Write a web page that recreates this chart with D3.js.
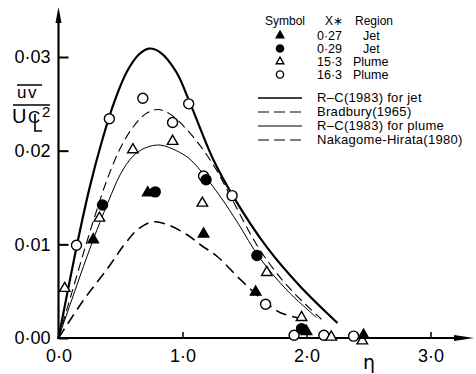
<!DOCTYPE html>
<html>
<head>
<meta charset="utf-8">
<script src="https://cdn.jsdelivr.net/npm/d3@7"></script>
<style>
  html, body { margin: 0; padding: 0; background: #fff; }
  svg { display: block; font-family: "Liberation Sans", Arial, sans-serif; }
</style>
</head>
<body>
<svg id="chart" width="476" height="374"></svg>
<script>
// Measured points: [eta, uv/Uc^2]
const jet027 = [[0.28,0.0105],[0.72,0.0155],[1.17,0.0111],[1.59,0.0049],[2.00,0.0007],[2.46,0.0003]];
const jet029 = [[0.355,0.0142],[0.78,0.0156],[1.19,0.0169],[1.60,0.0088],[1.96,0.0010]];
const plume153 = [[0.05,0.0053],[0.33,0.0128],[0.60,0.0201],[0.92,0.0210],[1.16,0.0144],[1.68,0.0070],[1.96,0.0022],[2.20,0.0001],[2.45,-0.0003]];
const plume163 = [[0.145,0.0099],[0.41,0.0234],[0.68,0.0256],[0.92,0.0230],[1.05,0.0250],[1.17,0.0173],[1.40,0.0152],[1.67,0.0036],[1.90,0.0003],[2.14,0.0003],[2.38,0.0002]];

// Model curves
const rcJet = [[0,0],[0.15,0.0100],[0.25,0.0160],[0.35,0.0210],[0.45,0.0252],[0.55,0.0284],[0.65,0.0303],[0.73,0.0309],[0.82,0.0305],[0.95,0.0284],[1.06,0.0251],[1.25,0.0190],[1.41,0.0151],[1.68,0.0097],[1.95,0.0055],[2.25,0.0016]];
const bradbury = [[0,0],[0.1,0.0045],[0.2,0.0090],[0.3,0.0133],[0.4,0.0172],[0.5,0.0203],[0.6,0.0225],[0.7,0.0239],[0.8,0.0244],[0.9,0.0239],[1.01,0.0226],[1.15,0.0204],[1.28,0.0178],[1.40,0.0148],[1.62,0.0095],[1.85,0.0055],[2.12,0.0020]];
const rcPlume = [[0,0],[0.1,0.0038],[0.2,0.0076],[0.3,0.0112],[0.4,0.0145],[0.5,0.0175],[0.6,0.0194],[0.7,0.0203],[0.82,0.0206],[0.95,0.0200],[1.05,0.0192],[1.15,0.0178],[1.31,0.0150],[1.45,0.0122],[1.62,0.0086],[1.85,0.0050],[2.08,0.0022]];
const nakagome = [[0,0],[0.2,0.0040],[0.4,0.0075],[0.55,0.0103],[0.65,0.0117],[0.76,0.0124],[0.88,0.0121],[1.04,0.0110],[1.15,0.0099],[1.28,0.0087],[1.47,0.0062],[1.67,0.0038],[1.79,0.0027],[1.95,0.0021]];

const xTicks = [0, 1, 2, 3];
const xTickLabels = ["0·0", "1·0", "2·0", "3·0"];
const yTicks = [0, 0.01, 0.02, 0.03];
const yTickLabels = ["0·00", "0·01", "0·02", "0·03"];

const symbolRows = [
  { kind: "triFilled", xs: "0·27", region: "Jet" },
  { kind: "circFilled", xs: "0·29", region: "Jet" },
  { kind: "triOpen", xs: "15·3", region: "Plume" },
  { kind: "circOpen", xs: "16·3", region: "Plume" }
];
const lineRows = ["R–C(1983) for jet", "Bradbury(1965)", "R–C(1983) for plume", "Nakagome-Hirata(1980)"];

const svg = d3.select("#chart");
const X0 = 58.5, Y0 = 338;
const x = d3.scaleLinear().domain([0, 3]).range([X0, 430.5]);
const y = d3.scaleLinear().domain([0, 0.03]).range([Y0, 57]);

// curves
const line = d3.line().x(d => x(d[0])).y(d => y(d[1])).curve(d3.curveCatmullRom.alpha(0.5));
const styles = {
  rcJet: { w: 2.2, dash: null },
  bradbury: { w: 1.1, dash: "9,5" },
  rcPlume: { w: 1.0, dash: null },
  nakagome: { w: 1.6, dash: "11,6" }
};
[[rcJet, styles.rcJet], [bradbury, styles.bradbury], [rcPlume, styles.rcPlume], [nakagome, styles.nakagome]].forEach(([d, s]) => {
  svg.append("path").attr("d", line(d)).attr("fill", "none").attr("stroke", "#000")
    .attr("stroke-width", s.w).attr("stroke-dasharray", s.dash);
});

// axes
const yAxis = d3.axisLeft(y).tickValues(yTicks).tickSizeInner(-10).tickSizeOuter(0).tickPadding(8)
  .tickFormat((d, i) => yTickLabels[i]);
const gy = svg.append("g").attr("transform", `translate(${X0},0)`).call(yAxis);
gy.select(".domain").remove();
gy.selectAll("line").attr("stroke", "#000").attr("stroke-width", 2);
gy.selectAll("text").attr("font-size", 18).attr("fill", "#000").attr("font-family", "Liberation Sans, Arial, sans-serif");

const xAxis = d3.axisBottom(x).tickValues(xTicks).tickSizeInner(-6).tickSizeOuter(0).tickPadding(11)
  .tickFormat((d, i) => xTickLabels[i]);
const gx = svg.append("g").attr("transform", `translate(0,${Y0})`).call(xAxis);
gx.select(".domain").remove();
gx.selectAll("line").attr("stroke", "#000").attr("stroke-width", 1.5);
gx.selectAll("text").attr("font-size", 18).attr("fill", "#000").attr("font-family", "Liberation Sans, Arial, sans-serif");

// axis lines with arrowheads
svg.append("line").attr("x1", X0).attr("y1", Y0 + 1).attr("x2", X0).attr("y2", 20).attr("stroke", "#000").attr("stroke-width", 2.2);
svg.append("path").attr("d", `M${X0},7 L${X0 - 3},23 L${X0 + 3},23 Z`).attr("fill", "#000");
svg.append("line").attr("x1", X0 - 1).attr("y1", Y0).attr("x2", 460).attr("y2", Y0).attr("stroke", "#000").attr("stroke-width", 2.2);
svg.append("path").attr("d", `M474,${Y0} L454,${Y0 - 3} L454,${Y0 + 3} Z`).attr("fill", "#000");

// symbols
function drawMark(g, kind, cx, cy, scale) {
  const k = scale || 1;
  if (kind === "triFilled" || kind === "triOpen") {
    const p = d3.symbol().type(d3.symbolTriangle).size(48 * k * k)();
    g.append("path").attr("d", p).attr("transform", `translate(${cx},${cy})`)
      .attr("fill", kind === "triFilled" ? "#000" : "#fff").attr("stroke", "#000").attr("stroke-width", 1.4);
  } else {
    g.append("circle").attr("cx", cx).attr("cy", cy).attr("r", 5 * k)
      .attr("fill", kind === "circFilled" ? "#000" : "#fff").attr("stroke", "#000").attr("stroke-width", 1.4);
  }
}
const marks = svg.append("g");
[[plume163, "circOpen"], [plume153, "triOpen"], [jet029, "circFilled"], [jet027, "triFilled"]].forEach(([d, kind]) => {
  d.forEach(p => drawMark(marks, kind, x(p[0]), y(p[1])));
});

// y-axis title: overline(uv) over U with centre-line subscript, squared
const t = svg.append("g").attr("font-family", "Liberation Sans, Arial, sans-serif").attr("fill", "#000");
t.append("text").attr("x", 17).attr("y", 98).attr("font-size", 17).attr("letter-spacing", 1.5).text("uv");
t.append("line").attr("x1", 17).attr("x2", 42).attr("y1", 85).attr("y2", 85).attr("stroke", "#000").attr("stroke-width", 1.5);
t.append("line").attr("x1", 13).attr("x2", 50).attr("y1", 105).attr("y2", 105).attr("stroke", "#000").attr("stroke-width", 1.5);
t.append("text").attr("x", 12).attr("y", 123).attr("font-size", 20).text("U");
t.append("text").attr("x", 28).attr("y", 123).attr("font-size", 17).text("C");
// the L stroke of the centre-line mark
t.append("path").attr("d", "M35,114 L35,131 L42,131").attr("fill", "none").attr("stroke", "#000").attr("stroke-width", 1.6);
t.append("text").attr("x", 42).attr("y", 117).attr("font-size", 15).text("2");

// eta label
svg.append("text").attr("x", 363).attr("y", 369).attr("font-size", 19).attr("font-family", "DejaVu Sans, sans-serif").text("η");

// legend
const lg = svg.append("g").attr("font-family", "Liberation Sans, Arial, sans-serif").attr("font-size", 12).attr("fill", "#000");
lg.append("text").attr("x", 265).attr("y", 25).text("Symbol");
lg.append("text").attr("x", 325).attr("y", 25).text("X∗");
lg.append("text").attr("x", 355).attr("y", 25).text("Region");
const rowY = [39.5, 52.5, 65.5, 78.5];
symbolRows.forEach((r, i) => {
  drawMark(lg, r.kind, 280, rowY[i] - 4, 0.72);
  lg.append("text").attr("x", 317).attr("y", rowY[i]).attr("font-size", 12.5).text(r.xs);
  lg.append("text").attr("x", r.region === "Jet" ? 363 : 353).attr("y", rowY[i]).attr("font-size", 12.5).text(r.region);
});
const lineY = [98, 112, 126, 140];
const lineStyleList = [styles.rcJet, styles.bradbury, styles.rcPlume, styles.nakagome];
lineRows.forEach((name, i) => {
  const s = lineStyleList[i];
  lg.append("line").attr("x1", 258).attr("x2", 302).attr("y1", lineY[i]).attr("y2", lineY[i])
    .attr("stroke", "#000").attr("stroke-width", i === 0 ? 1.3 : (i === 2 ? 1.0 : 1.2))
    .attr("stroke-dasharray", s.dash ? "11,5" : null);
  lg.append("text").attr("x", 317).attr("y", lineY[i] + 4).attr("font-size", 13).attr("letter-spacing", 0.3).text(name);
});
</script>
</body>
</html>
